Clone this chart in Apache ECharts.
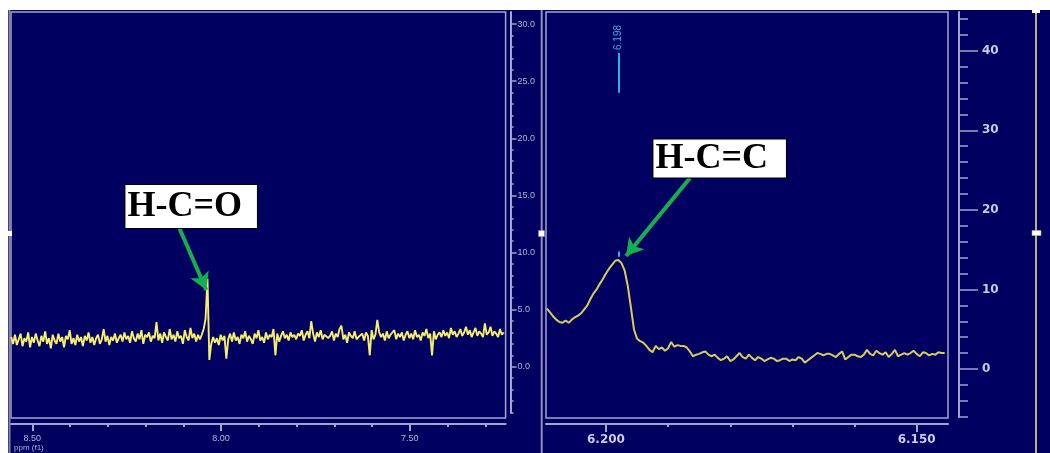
<!DOCTYPE html>
<html><head><meta charset="utf-8">
<script src="https://cdn.jsdelivr.net/npm/echarts@6/dist/echarts.min.js"></script>
<style>html,body{margin:0;padding:0;background:#fff}#c{width:1050px;height:453px}</style>
</head><body><div id="c"></div>
<script>
// ---------- data ----------
const leftPpmStart = 8.556;
const leftPpmStep = 0.005;
const leftIntensity = [
2.6,2.0,2.8,1.9,2.4,2.9,1.8,2.5,2.2,3.0,1.7,2.6,2.1,2.9,2.3,1.8,2.7,2.2,3.1,2.0,
2.5,1.6,2.8,2.3,2.0,2.9,2.2,2.6,1.7,2.7,2.4,3.2,2.0,2.5,1.9,2.8,2.2,2.6,1.8,2.7,
2.3,3.0,2.1,2.6,1.9,2.5,2.8,2.0,2.4,3.3,2.2,2.7,1.9,2.6,2.3,2.9,2.1,2.5,2.8,2.2,
3.0,2.4,2.7,2.1,3.1,2.5,2.2,2.9,2.4,3.2,2.0,2.8,2.6,3.0,2.2,2.7,2.5,3.9,2.3,2.9,
2.1,3.0,2.6,2.3,3.3,2.4,2.8,2.2,3.1,2.5,2.7,2.0,3.2,2.6,2.3,3.4,2.5,2.9,2.2,2.8,
2.4,2.8,3.3,4.2,7.7,0.6,2.0,2.6,2.1,2.5,1.9,2.8,2.3,2.7,0.7,2.4,2.9,2.2,3.0,2.3,
2.6,2.0,2.8,2.5,3.1,2.2,2.7,2.4,2.0,2.9,2.5,3.2,2.3,2.6,2.1,3.0,2.4,2.8,2.6,3.3,
1.0,2.9,2.2,2.7,3.1,2.5,2.8,2.3,3.0,2.6,2.8,2.4,2.9,2.7,3.2,2.3,2.8,3.1,2.5,4.0,
2.9,2.2,3.0,2.6,3.2,2.4,2.8,2.7,2.5,2.7,3.1,2.3,2.9,2.6,3.3,3.6,2.4,2.8,2.1,3.0,
2.7,2.5,3.1,2.4,2.6,2.6,2.9,2.3,3.0,2.7,1.0,3.2,2.4,2.8,4.1,3.0,2.6,2.9,2.3,3.1,
2.5,2.8,2.7,3.2,2.4,2.9,2.6,3.0,2.3,2.8,3.1,2.5,2.9,2.4,3.2,2.6,2.8,2.3,3.0,2.7,
3.3,2.5,2.9,1.0,3.1,2.4,2.8,3.0,2.6,3.2,2.7,3.0,2.5,3.4,2.8,3.1,2.6,2.9,3.3,2.7,
3.0,3.5,2.8,3.2,2.6,3.0,3.4,2.7,3.1,2.9,2.6,3.8,2.8,3.0,3.5,2.7,3.1,2.9,2.6,3.3,
2.8,3.0
];
const rightPpmStart = 6.2095;
const rightPpmStep = 0.0005;
const rightIntensity = [
7.6,7.1,6.6,6.2,5.9,5.8,6.1,5.8,6.2,6.5,
6.7,7.0,7.5,8.0,8.8,9.5,10.0,10.7,11.3,12.0,
12.6,13.1,13.6,13.7,13.3,12.4,10.5,7.8,5.0,3.8,
3.5,3.3,2.9,2.4,2.1,2.9,2.5,2.7,2.3,2.6,
3.4,2.8,3.0,2.9,2.9,2.7,2.2,1.6,1.8,1.9,
2.1,2.2,1.8,1.6,1.8,1.4,1.1,1.3,1.6,1.0,
1.2,1.6,2.0,1.5,1.3,1.8,1.4,1.1,1.5,1.3,
1.0,1.2,1.4,1.3,1.0,1.1,1.3,1.3,1.0,1.2,
1.1,1.5,1.3,0.8,1.1,1.4,1.7,2.0,1.9,1.7,
1.9,1.9,1.7,1.5,1.9,2.2,1.2,1.5,1.8,1.8,
1.6,1.5,1.8,2.4,1.9,1.7,2.3,2.0,1.8,2.1,
1.5,1.9,2.4,1.6,1.8,2.0,1.8,2.0,2.3,1.9,
1.6,2.1,2.0,1.7,1.9,1.8,2.1,2.0,2.0
];
const leftXTicks = [8.5, 8.0, 7.5];
const leftXMinorTicks = [8.4, 8.3, 8.2, 8.1, 7.9, 7.8, 7.7, 7.6, 7.4, 7.3];
const leftYTicks = [0, 5, 10, 15, 20, 25, 30];
const leftYMinorTicks = [-4,-3,-2,-1,1,2,3,4,6,7,8,9,11,12,13,14,16,17,18,19,21,22,23,24,26,27,28,29];
const rightXTicks = [6.2, 6.15];
const rightXMinorTicks = [6.19, 6.18, 6.17, 6.16];
const rightYTicks = [0, 10, 20, 30, 40];
const rightYMinorTicks = [-6,-4,-2,2,4,6,8,12,14,16,18,22,24,26,28,32,34,36,38,42,44];
const peakPpm = 6.198;
const peakLabel = '6.198';
const leftAnnotation = {text: 'H-C=O', at: [8.0791, 14.03], from: [8.112, 12.26], to: [8.0391, 6.72]};
const rightAnnotation = {text: 'H-C=C', at: [6.1817, 26.45], from: [6.18648, 24.0], to: [6.19678, 14.2]};

// ---------- build ----------
const leftData = leftIntensity.map((v, i) => [leftPpmStart - i * leftPpmStep, v]);
const rightData = rightIntensity.map((v, i) => [rightPpmStart - i * rightPpmStep, v]);

const NAVY = '#000060';
const FRAME = '#a4a4cc';
const GREEN = '#14b04e';
const CYAN = '#22b6e2';
const SERIF = "'Liberation Serif','Times New Roman',serif";
const SANS = "'Liberation Sans',Arial,sans-serif";

function hiddenX(grid) {
  return {type: 'value', gridIndex: grid, show: false, min: 0, max: 1};
}
function xMajor(grid, min, max, ticks, fmt, len, labelStyle) {
  return {
    type: 'value', gridIndex: grid, inverse: true, min: min, max: max, position: 'bottom', offset: 6,
    axisLine: {show: true, onZero: false, lineStyle: {color: FRAME, width: 2}},
    axisTick: {show: true, length: len, customValues: ticks, lineStyle: {color: FRAME, width: 2}},
    axisLabel: Object.assign({show: true, customValues: ticks, margin: 10, formatter: fmt}, labelStyle),
    splitLine: {show: false}
  };
}
function xMinor(grid, min, max, ticks, len) {
  return {
    type: 'value', gridIndex: grid, inverse: true, min: min, max: max, position: 'bottom', offset: 6,
    axisLine: {show: false, onZero: false},
    axisTick: {show: true, length: len, customValues: ticks, lineStyle: {color: FRAME, width: 2}},
    axisLabel: {show: false}, splitLine: {show: false}
  };
}
function yHidden(grid, min, max) {
  return {type: 'value', gridIndex: grid, show: false, min: min, max: max};
}
function yMajor(grid, min, max, ticks, offset, len, margin, fmt, labelStyle) {
  return {
    type: 'value', gridIndex: grid, min: min, max: max, position: 'right', offset: offset,
    axisLine: {show: true, onZero: false, lineStyle: {color: FRAME, width: 2}},
    axisTick: {show: true, length: len, customValues: ticks, lineStyle: {color: FRAME, width: 1.5}},
    axisLabel: Object.assign({show: true, customValues: ticks, margin: margin, formatter: fmt}, labelStyle),
    splitLine: {show: false}
  };
}
function yMinor(grid, min, max, ticks, offset, len) {
  return {
    type: 'value', gridIndex: grid, min: min, max: max, position: 'right', offset: offset,
    axisLine: {show: false, onZero: false},
    axisTick: {show: true, length: len, customValues: ticks, lineStyle: {color: FRAME, width: 1.5}},
    axisLabel: {show: false}, splitLine: {show: false}
  };
}
function boxLabel(txt, at, pad) {
  return {
    coord: at, symbol: 'rect', symbolSize: 0,
    label: {
      show: true, position: 'inside', formatter: txt, fontFamily: SERIF, fontWeight: 'bold',
      fontSize: 36, lineHeight: 36, color: '#000', backgroundColor: '#ffffff',
      borderColor: '#000', borderWidth: 1, padding: pad
    }
  };
}
function arrow(a) {
  return [{coord: a.from, symbol: 'none'}, {coord: a.to, symbol: 'arrow', symbolSize: [15, 17]}];
}

const leftLabelStyle = {color: '#b4b4d6', fontSize: 9, fontFamily: SANS};
const rightLabelStyle = {color: '#cacaee', fontSize: 12, fontWeight: 'bold', fontFamily: "'DejaVu Sans',sans-serif"};

const option = {
  backgroundColor: NAVY,
  animation: false,
  grid: [
    {left: 11, top: 12, width: 494.6, height: 406, show: true, borderColor: FRAME, borderWidth: 1.5, backgroundColor: 'transparent'},
    {left: 11, top: 12, width: 494.6, height: 401, show: false},
    {left: 546, top: 12, width: 402, height: 406, show: true, borderColor: FRAME, borderWidth: 1.5, backgroundColor: 'transparent'},
    {left: 546, top: 12, width: 402, height: 405, show: false}
  ],
  xAxis: [
    xMajor(0, 7.2461, 8.5565, leftXTicks, v => v.toFixed(2), 7, leftLabelStyle),
    xMinor(0, 7.2461, 8.5565, leftXMinorTicks, 3),
    hiddenX(1),
    xMajor(2, 6.14496, 6.20965, rightXTicks, v => v.toFixed(3), 8, rightLabelStyle),
    xMinor(2, 6.14496, 6.20965, rightXMinorTicks, 3),
    hiddenX(3)
  ],
  yAxis: [
    yHidden(0, -4.49, 31.06),
    yMajor(1, -4.05, 31.06, leftYTicks, 5, 6, 7, v => v.toFixed(1), leftLabelStyle),
    yMinor(1, -4.05, 31.06, leftYMinorTicks, 5, 3),
    yHidden(2, -6.16, 44.86),
    yMajor(3, -6.03, 44.86, rightYTicks, 11, 19, 23, v => String(Math.round(v)), rightLabelStyle),
    yMinor(3, -6.03, 44.86, rightYMinorTicks, 11, 9)
  ],
  series: [
    {
      type: 'line', xAxisIndex: 0, yAxisIndex: 0, data: leftData, symbol: 'none', silent: true,
      lineStyle: {color: '#f6ee6c', width: 1.9}, z: 2,
      markLine: {silent: true, symbol: ['none', 'arrow'], label: {show: false},
        lineStyle: {color: GREEN, width: 4, type: 'solid'}, data: [arrow(leftAnnotation)]},
      markPoint: {silent: true, data: [boxLabel(leftAnnotation.text, leftAnnotation.at, [4, 15, 3, 2])]}
    },
    {
      type: 'line', xAxisIndex: 3, yAxisIndex: 3, data: rightData, symbol: 'none', silent: true,
      lineStyle: {color: '#dccb5c', width: 2}, z: 2,
      markLine: {silent: true, symbol: ['none', 'arrow'], label: {show: false},
        lineStyle: {color: GREEN, width: 4, type: 'solid'},
        data: [
          arrow(rightAnnotation),
          [{coord: [peakPpm, 34.7], symbol: 'none', lineStyle: {color: CYAN, width: 2}}, {coord: [peakPpm, 39.7], symbol: 'none'}],
          [{coord: [peakPpm, 14.1], symbol: 'none', lineStyle: {color: CYAN, width: 2}}, {coord: [peakPpm, 14.75], symbol: 'none'}]
        ]},
      markPoint: {silent: true, data: [
        boxLabel(rightAnnotation.text, rightAnnotation.at, [2, 18, 0, 2]),
        {coord: [peakPpm, 41.66], symbol: 'rect', symbolSize: 0,
          label: {show: true, position: 'inside', formatter: peakLabel, rotate: 90, color: CYAN, fontSize: 10, fontFamily: SANS}}
      ]}
    }
  ],
  graphic: [
    {type: 'rect', shape: {x: 0, y: 0, width: 1050, height: 10}, style: {fill: '#fff'}, silent: true, z: 100},
    {type: 'rect', shape: {x: 0, y: 0, width: 8, height: 453}, style: {fill: '#fff'}, silent: true, z: 100},
    {type: 'line', shape: {x1: 9.5, y1: 10, x2: 9.5, y2: 453}, style: {stroke: '#8484ac', lineWidth: 2}, silent: true},
    {type: 'rect', shape: {x: 8, y: 231, width: 4, height: 5}, style: {fill: '#fff'}, silent: true},
    {type: 'line', shape: {x1: 541.7, y1: 10, x2: 541.7, y2: 453}, style: {stroke: '#9090b4', lineWidth: 2}, silent: true},
    {type: 'rect', shape: {x: 538.5, y: 230.5, width: 6, height: 6}, style: {fill: '#fff', stroke: '#9090b4', lineWidth: 0.5}, silent: true},
    {type: 'line', shape: {x1: 1036, y1: 10, x2: 1036, y2: 453}, style: {stroke: '#b8b08a', lineWidth: 2}, silent: true},
    {type: 'rect', shape: {x: 1032, y: 10, width: 8, height: 3}, style: {fill: '#fff'}, silent: true},
    {type: 'rect', shape: {x: 1032, y: 230.5, width: 9, height: 5}, style: {fill: '#fff', stroke: '#b8b08a', lineWidth: 0.5}, silent: true},
    {type: 'text', left: 14, top: 444, style: {text: 'ppm (f1)', fill: '#b4b4d6', font: "8px 'Liberation Sans',Arial,sans-serif"}, silent: true}
  ]
};

const chart = echarts.init(document.getElementById('c'), null, {renderer: 'canvas'});
chart.setOption(option);
</script>
</body></html>
